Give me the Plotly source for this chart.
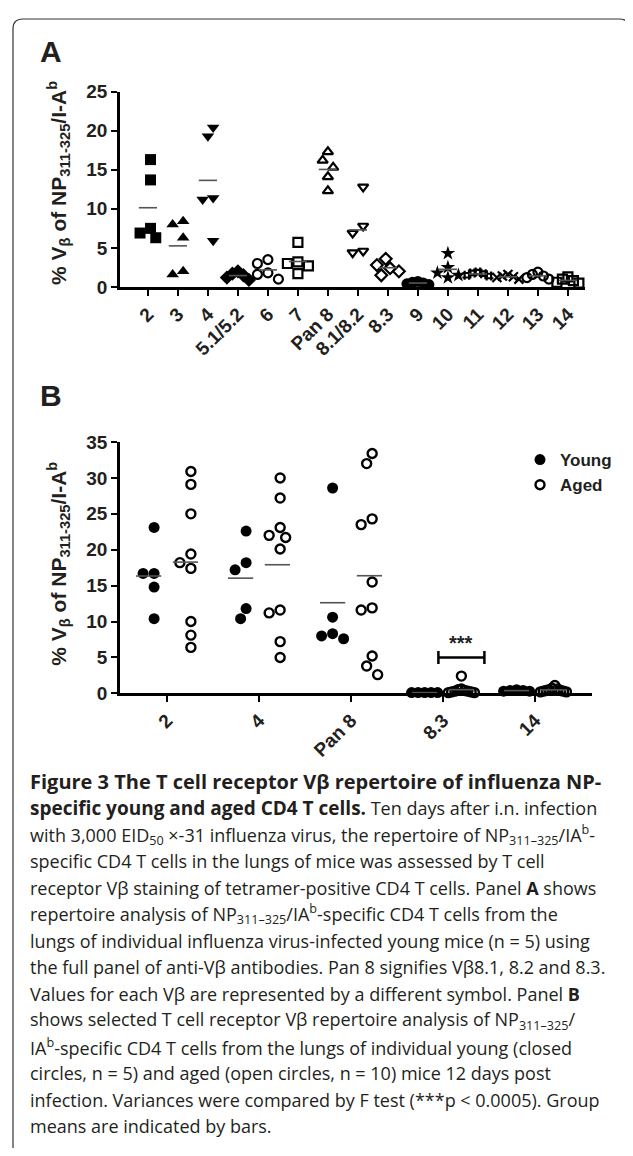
import plotly.graph_objects as go

# reference canvas size (pixels) and the page offset of the plot div (body margin)
W, H = 633, 1156
OX, OY = 8, 8
FW, FH = W - 2 * OX + 8, H - 2 * OY

# ---------------- Panel A data ----------------
a_categories = ["2", "3", "4", "5.1/5.2", "6", "7", "Pan 8", "8.1/8.2", "8.3",
                "9", "10", "11", "12", "13", "14"]
a_vb2 = [16.3, 13.7, 7.5, 6.9, 6.3]
a_vb3 = [8.4, 8.0, 6.3, 2.0, 1.6]
a_vb4 = [20.4, 19.3, 11.4, 11.2, 5.9]
a_vb5 = [2.0, 1.7, 1.5, 1.2, 0.9]
a_vb6 = [3.5, 3.0, 1.8, 1.6, 1.0]
a_vb7 = [5.7, 3.2, 3.0, 2.7, 1.7]
a_pan8 = [17.3, 16.2, 15.3, 14.1, 12.3]
a_vb81 = [12.8, 7.8, 6.9, 4.6, 4.4]
a_vb83 = [3.6, 2.8, 2.4, 2.0, 1.5]
a_vb9 = [0.7, 0.6, 0.5, 0.4, 0.3]
a_vb10 = [4.3, 2.5, 1.8, 1.5, 1.2]
a_vb11 = [1.9, 1.8, 1.7, 1.5, 1.4]
a_vb12 = [1.6, 1.4, 1.3, 1.2, 1.0]
a_vb13 = [1.9, 1.6, 1.4, 1.2, 1.0]
a_vb14 = [1.3, 1.0, 0.8, 0.6, 0.5]
a_values = [a_vb2, a_vb3, a_vb4, a_vb5, a_vb6, a_vb7, a_pan8, a_vb81, a_vb83,
            a_vb9, a_vb10, a_vb11, a_vb12, a_vb13, a_vb14]
a_y_ticks = [0, 5, 10, 15, 20, 25]

# ---------------- Panel B data ----------------
b_categories = ["2", "4", "Pan 8", "8.3", "14"]
b_young_2 = [23.1, 16.7, 16.7, 14.8, 10.4]
b_young_4 = [22.6, 18.2, 17.2, 11.8, 10.4]
b_young_pan8 = [28.6, 10.6, 8.3, 8.0, 7.6]
b_young_83 = [0.1, 0.1, 0.1, 0.1, 0.1]
b_young_14 = [0.5, 0.4, 0.4, 0.3, 0.3]
b_aged_2 = [30.9, 29.1, 25.0, 19.4, 18.2, 17.4, 10.0, 8.1, 6.4]
b_aged_4 = [30.0, 27.2, 23.1, 22.0, 21.7, 20.1, 11.6, 11.2, 7.2, 5.0]
b_aged_pan8 = [33.4, 32.0, 24.3, 23.5, 15.5, 11.9, 11.6, 5.2, 3.8, 2.6]
b_aged_83 = [2.4, 0.6, 0.5, 0.4, 0.3, 0.3, 0.2, 0.2, 0.1, 0.1]
b_aged_14 = [1.1, 0.7, 0.6, 0.5, 0.4, 0.4, 0.3, 0.3, 0.2, 0.2]
b_young = [b_young_2, b_young_4, b_young_pan8, b_young_83, b_young_14]
b_aged = [b_aged_2, b_aged_4, b_aged_pan8, b_aged_83, b_aged_14]
b_y_ticks = [0, 5, 10, 15, 20, 25, 30, 35]
b_sig_category = "8.3"
b_sig_level = 5.0
b_sig_label = "***"

# ---------------- styling ----------------
A_SYMBOLS = ["square", "triangle-up", "triangle-down", "diamond", "circle-open",
             "square-open", "triangle-up-open", "triangle-down-open", "diamond-open",
             "circle", "star", "hash-open", "x-thin-open", "circle-open", "square-open"]
INK = "#231f20"
FONT = "Liberation Sans"


def px_x(p):
    return (p - OX) / FW


def px_y(p):
    return 1 - (p - OY) / FH


A_LEFT, A_RIGHT, A_TOP, A_BOT = 120, 585, 83, 282
B_LEFT, B_RIGHT, B_TOP, B_BOT = 120, 592, 440, 696
A_XRANGE = [-0.93, 14.57]
B_XRANGE = [-(167 - B_LEFT) / 92.0, (B_RIGHT - 167) / 92.0]


def swarm(vals, sx, sy, d, limit):
    """Simple beeswarm: horizontal offsets (in x units) avoiding marker overlap."""
    order = sorted(range(len(vals)), key=lambda i: vals[i], reverse=True)
    placed = []
    offs = [0.0] * len(vals)
    step = d * 0.5
    cands = [0.0]
    for k in range(1, 40):
        cands += [-k * step, k * step]
    for i in order:
        y = vals[i] * sy
        for c in cands:
            if all((c - px) ** 2 + (y - py) ** 2 >= (d * 0.95) ** 2 for px, py in placed):
                break
        placed.append((c, y))
        offs[i] = c
    lo, hi = min(offs), max(offs)
    sh = (lo + hi) / 2
    offs = [o - sh for o in offs]
    m = max(abs(o) for o in offs)
    if m > limit:
        offs = [o * limit / m for o in offs]
    return [o / sx for o in offs]


fig = go.Figure()

# ---------------- Panel A traces ----------------
a_sx = (A_RIGHT - A_LEFT) / (A_XRANGE[1] - A_XRANGE[0])
a_sy = (A_BOT - A_TOP) / 25.0
for i, vals in enumerate(a_values):
    offs = swarm(vals, a_sx, a_sy, 10.5, 11)
    sym = A_SYMBOLS[i]
    is_open = sym.endswith("-open")
    fig.add_trace(go.Scatter(
        x=[i + o for o in offs], y=vals, mode="markers", xaxis="x", yaxis="y",
        showlegend=False, cliponaxis=False,
        marker=dict(symbol=sym, size=9 if is_open else 11, color="black",
                    line=dict(width=2.2 if is_open else 0, color="black")),
    ))
    fig.add_trace(go.Scatter(
        x=[i], y=[sum(vals) / len(vals)], mode="markers", xaxis="x", yaxis="y",
        showlegend=False, cliponaxis=False,
        marker=dict(symbol="line-ew", size=13, line=dict(width=1.6, color="#555555")),
    ))

# ---------------- Panel B traces ----------------
b_sx = (B_RIGHT - B_LEFT) / (B_XRANGE[1] - B_XRANGE[0])
b_sy = (B_BOT - B_TOP) / 35.0
GROUP_OFF = 0.2
yx, yy, ax_, ay = [], [], [], []
for i, vals in enumerate(b_young):
    offs = swarm(vals, b_sx, b_sy, 11, 13)
    yx += [i - GROUP_OFF + o for o in offs]
    yy += vals
for i, vals in enumerate(b_aged):
    offs = swarm(vals, b_sx, b_sy, 11, 13)
    ax_ += [i + GROUP_OFF + o for o in offs]
    ay += vals

fig.add_trace(go.Scatter(
    x=yx, y=yy, mode="markers", name="Young", xaxis="x2", yaxis="y2", cliponaxis=False,
    marker=dict(symbol="circle", size=11, color="black", line=dict(width=0)),
))
fig.add_trace(go.Scatter(
    x=ax_, y=ay, mode="markers", name="Aged", xaxis="x2", yaxis="y2", cliponaxis=False,
    marker=dict(symbol="circle-open", size=9, color="black", line=dict(width=2.4, color="black")),
))
mx, my = [], []
for i in range(len(b_categories)):
    mx += [i - GROUP_OFF, i + GROUP_OFF]
    my += [sum(b_young[i]) / len(b_young[i]), sum(b_aged[i]) / len(b_aged[i])]
fig.add_trace(go.Scatter(
    x=mx, y=my, mode="markers", xaxis="x2", yaxis="y2", showlegend=False, cliponaxis=False,
    marker=dict(symbol="line-ew", size=18, line=dict(width=1.6, color="#555555")),
))

# significance bracket
ci = b_categories.index(b_sig_category)
x0, x1 = ci - 0.05, ci + 0.45
cap = 0.9
fig.add_trace(go.Scatter(
    x=[x0, x0, None, x0, x1, None, x1, x1],
    y=[b_sig_level - cap, b_sig_level + cap, None, b_sig_level, b_sig_level, None,
       b_sig_level - cap, b_sig_level + cap],
    mode="lines", xaxis="x2", yaxis="y2", showlegend=False, cliponaxis=False,
    line=dict(color="black", width=2.5),
))

# ---------------- axes ----------------
tickfont = dict(family=FONT, size=19, color=INK, weight="bold")
axis_common = dict(showline=True, linewidth=2.5, linecolor="black", ticks="outside",
                   ticklen=6, tickwidth=2.2, tickcolor="black", showgrid=False,
                   zeroline=False, tickfont=tickfont)

fig.update_layout(
    width=FW, height=FH, margin=dict(l=0, r=0, t=0, b=0),
    paper_bgcolor="white", plot_bgcolor="white",
    xaxis=dict(domain=[px_x(A_LEFT), px_x(A_RIGHT)], range=A_XRANGE, anchor="y",
               tickvals=list(range(len(a_categories))), ticktext=a_categories,
               tickangle=-45, **axis_common),
    yaxis=dict(domain=[px_y(A_BOT), px_y(A_TOP)], range=[0, 25], anchor="x",
               tickvals=a_y_ticks, **axis_common),
    xaxis2=dict(domain=[px_x(B_LEFT), px_x(B_RIGHT)], range=B_XRANGE, anchor="y2",
                tickvals=list(range(len(b_categories))), ticktext=b_categories,
                tickangle=-45, **axis_common),
    yaxis2=dict(domain=[px_y(B_BOT), px_y(B_TOP)], range=[0, 35], anchor="x2",
                tickvals=b_y_ticks, **axis_common),
    legend=dict(x=px_x(520), y=px_y(440), xanchor="left", yanchor="top",
                font=dict(family=FONT, size=17, color=INK, weight="bold"),
                bgcolor="rgba(0,0,0,0)", itemwidth=30, tracegroupgap=0),
    showlegend=True,
)

ytitle = "% V<sub>β</sub> of NP<sub>311-325</sub>/I-A<sup>b</sup>"
ann = []
for yc in [176, 564]:
    ann.append(dict(text=ytitle, x=px_x(59), y=px_y(yc), xref="paper", yref="paper",
                    textangle=-90, showarrow=False, xanchor="center", yanchor="middle",
                    font=dict(family=FONT, size=21, color=INK, weight="bold")))
ann.append(dict(text="A", x=px_x(51), y=px_y(42), xref="paper", yref="paper",
                showarrow=False, xanchor="center", yanchor="middle",
                font=dict(family=FONT, size=30, color=INK, weight="bold")))
ann.append(dict(text="B", x=px_x(51), y=px_y(393), xref="paper", yref="paper",
                showarrow=False, xanchor="center", yanchor="middle",
                font=dict(family=FONT, size=30, color=INK, weight="bold")))
ann.append(dict(text=b_sig_label, x=(x0 + x1) / 2, y=b_sig_level, xref="x2", yref="y2",
                showarrow=False, xanchor="center", yanchor="bottom", yshift=1,
                font=dict(family=FONT, size=20, color=INK, weight="bold")))

caption = [
    "<b><span style='font-size:20px'>Figure 3 The T cell receptor Vβ repertoire of influenza NP-</span></b>",
    "<b><span style='font-size:19px'>specific young and aged CD4 T cells.</span></b> Ten days after i.n. infection",
    "with 3,000 EID<sub>50</sub> ×-31 influenza virus, the repertoire of NP<sub>311–325</sub>/IA<sup>b</sup>-",
    "specific CD4 T cells in the lungs of mice was assessed by T cell",
    "receptor Vβ staining of tetramer-positive CD4 T cells. Panel <b>A</b> shows",
    "repertoire analysis of NP<sub>311–325</sub>/IA<sup>b</sup>-specific CD4 T cells from the",
    "lungs of individual influenza virus-infected young mice (n = 5) using",
    "the full panel of anti-Vβ antibodies. Pan 8 signifies Vβ8.1, 8.2 and 8.3.",
    "Values for each Vβ are represented by a different symbol. Panel <b>B</b>",
    "shows selected T cell receptor Vβ repertoire analysis of NP<sub>311–325</sub>/",
    "IA<sup>b</sup>-specific CD4 T cells from the lungs of individual young (closed",
    "circles, n = 5) and aged (open circles, n = 10) mice 12 days post",
    "infection. Variances were compared by F test (***p < 0.0005). Group",
    "means are indicated by bars.",
]
for k, line in enumerate(caption):
    ann.append(dict(text=line, x=px_x(28), y=px_y(786 + k * 27.0), xref="paper", yref="paper",
                    showarrow=False, xanchor="left", yanchor="middle",
                    font=dict(family="Open Sans", size=18, color=INK)))
fig.update_layout(annotations=ann)

# frame with rounded top corners
xl, xr, yt, r = 13, 629, 9, 10
path = (f"M {px_x(xl)},{px_y(H + 5)} L {px_x(xl)},{px_y(yt + r)} "
        f"Q {px_x(xl)},{px_y(yt)} {px_x(xl + r)},{px_y(yt)} "
        f"L {px_x(xr - r)},{px_y(yt)} Q {px_x(xr)},{px_y(yt)} {px_x(xr)},{px_y(yt + r)} "
        f"L {px_x(xr)},{px_y(H + 5)}")
fig.add_shape(type="path", path=path, xref="paper", yref="paper",
              line=dict(color="#333333", width=1.2))

fig.write_html("out.html")
